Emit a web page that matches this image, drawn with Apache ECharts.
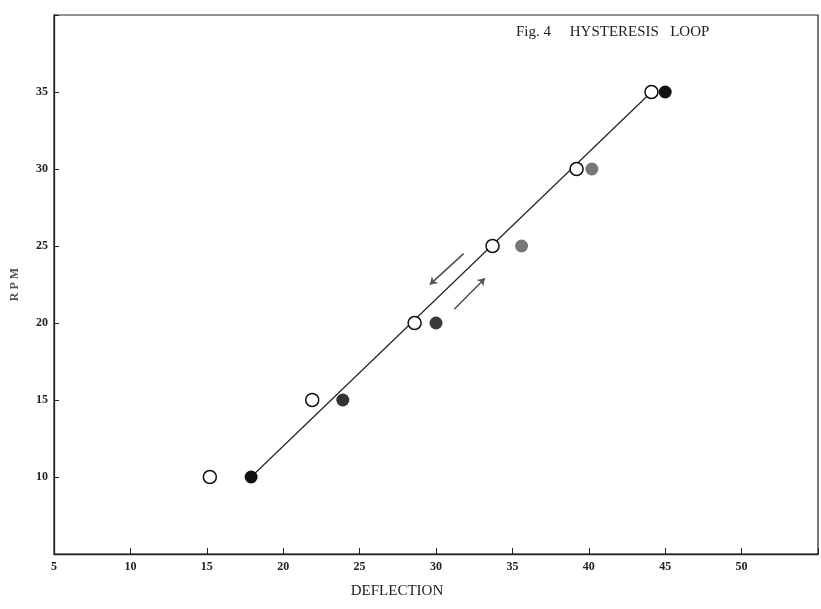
<!DOCTYPE html>
<html><head><meta charset="utf-8">
<script src="https://cdn.jsdelivr.net/npm/echarts@6/dist/echarts.min.js"></script>
<style>html,body{margin:0;padding:0;background:#fff}#c{width:821px;height:609px}</style>
</head><body><div id="c"></div>
<script>
const rpm = [10, 15, 20, 25, 30, 35];
const deflectionOpen = [15.2, 21.9, 28.6, 33.7, 39.2, 44.1];
const deflectionClosed = [17.9, 23.9, 30.0, 35.6, 40.2, 45.0];
const closedShades = ['#111', '#333', '#3a3a3a', '#777', '#777', '#111'];
const fitLine = [[17.9, 10], [44.1, 35]];
const arrowDown = [[31.8, 24.5], [29.6, 22.5]];
const arrowUp = [[31.2, 20.9], [33.2, 22.9]];
const xTicks = [5, 10, 15, 20, 25, 30, 35, 40, 45, 50];
const yTicks = [10, 15, 20, 25, 30, 35];

const serif = 'Liberation Serif';
const chart = echarts.init(document.getElementById('c'));
const arrowSeries = (pts) => ({
  type: 'line', data: pts, symbol: 'none', silent: true, z: 1,
  lineStyle: { color: '#555', width: 1.3 },
  markLine: {
    symbol: ['none', 'arrow'], symbolSize: 7, silent: true, label: { show: false },
    lineStyle: { color: '#555', width: 1.3, type: 'solid' },
    data: [[{ coord: pts[0] }, { coord: pts[1] }]]
  }
});
chart.setOption({
  animation: false,
  backgroundColor: '#fff',
  title: {
    text: 'Fig. 4     HYSTERESIS   LOOP', left: 511, top: 20,
    textStyle: { fontFamily: serif, fontSize: 15, fontWeight: 'normal', color: '#222' }
  },
  grid: { left: 54, right: 3, top: 15, bottom: 55, show: true, borderColor: '#222', borderWidth: 1.2 },
  xAxis: {
    type: 'value', min: 5, max: 55, interval: 5,
    name: 'DEFLECTION', nameLocation: 'middle', nameGap: 30,
    nameTextStyle: { fontFamily: serif, fontSize: 15, color: '#222', padding: [0, 78, 0, 0] },
    axisLine: { lineStyle: { color: '#222', width: 1.3 } },
    axisTick: { inside: true, length: 6, lineStyle: { color: '#222' } },
    axisLabel: { fontFamily: serif, fontSize: 12, fontWeight: 'bold', color: '#222', margin: 7,
      formatter: v => xTicks.includes(v) ? String(v) : '' },
    splitLine: { show: false }
  },
  yAxis: {
    type: 'value', min: 5, max: 40, interval: 5,
    name: 'R P M', nameLocation: 'middle', nameGap: 33, nameRotate: 90,
    nameTextStyle: { fontFamily: serif, fontSize: 12, fontWeight: 'bold', color: '#555' },
    axisLine: { lineStyle: { color: '#222', width: 1.3 } },
    axisTick: { inside: true, length: 5, lineStyle: { color: '#222' } },
    axisLabel: { fontFamily: serif, fontSize: 12, fontWeight: 'bold', color: '#222', margin: 6,
      formatter: v => yTicks.includes(v) ? String(v) : '' },
    splitLine: { show: false }
  },
  series: [
    { type: 'line', data: fitLine, symbol: 'none', z: 2,
      lineStyle: { color: '#222', width: 1.2 } },
    arrowSeries(arrowDown),
    arrowSeries(arrowUp),
    { type: 'scatter', z: 4, symbolSize: 13,
      data: deflectionClosed.map((x, i) => ({ value: [x, rpm[i]], itemStyle: { color: closedShades[i], opacity: 1 } })) },
    { type: 'scatter', z: 5, symbolSize: 13,
      itemStyle: { color: '#fff', borderColor: '#111', borderWidth: 1.5, opacity: 1 },
      data: deflectionOpen.map((x, i) => [x, rpm[i]]) }
  ]
});
</script></body></html>
